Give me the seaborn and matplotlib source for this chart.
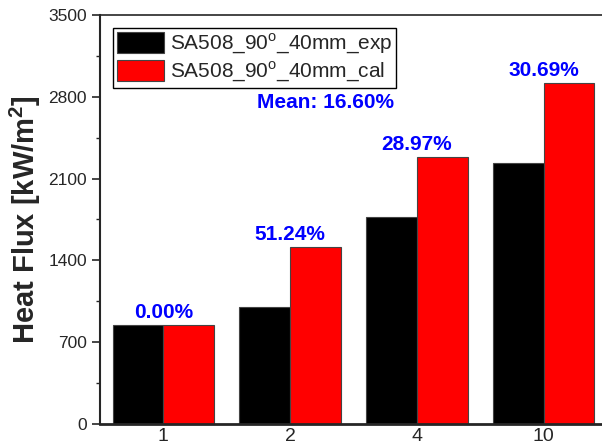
import matplotlib
matplotlib.use("Agg")
import matplotlib.pyplot as plt
import seaborn as sns
import pandas as pd

categories = ["1", "2", "4", "10"]
exp_values = [850, 1000, 1772, 2235]
cal_values = [850, 1512, 2285, 2921]
labels = ["0.00%", "51.24%", "28.97%", "30.69%"]
series_names = ["SA508_90$^\\mathrm{o}$_40mm_exp", "SA508_90$^\\mathrm{o}$_40mm_cal"]
mean_label = "Mean: 16.60%"

sns.set_style("ticks")
plt.rcParams['font.family'] = ['Liberation Sans', 'DejaVu Sans']
plt.rcParams['mathtext.fontset'] = 'custom'
plt.rcParams['mathtext.rm'] = 'Liberation Sans'
plt.rcParams['mathtext.bf'] = 'Liberation Sans:bold'

df = pd.DataFrame({
    "cat": categories * 2,
    "value": exp_values + cal_values,
    "series": [series_names[0]] * 4 + [series_names[1]] * 4,
})

fig = plt.figure(figsize=(6.02, 4.43), dpi=100)
ax = fig.add_axes([100 / 602, 1 - 424 / 443, 507 / 602, 409 / 443])

sns.barplot(data=df, x="cat", y="value", hue="series", palette=["black", "red"],
            saturation=1, width=0.8, edgecolor="#444444", linewidth=0.8, ax=ax)

ax.set_ylim(0, 3500)
ax.set_xlim(-0.5, 3.5)
ax.set_yticks(range(0, 3501, 700))
ax.set_yticks(range(350, 3500, 700), minor=True)
ax.tick_params(axis="y", which="major", length=6, width=1.2, labelsize=12.5, direction="out")
ax.tick_params(axis="y", which="minor", length=3, width=1.0, direction="out")
ax.tick_params(axis="x", length=0, labelsize=14, pad=3)
ax.set_xlabel("")
ax.set_ylabel("Heat Flux [kW/m$^\\mathbf{2}$]", fontsize=21, fontweight="bold", labelpad=4)

ax.spines["left"].set_linewidth(1.5)
ax.spines["bottom"].set_linewidth(2.0)
ax.spines["top"].set_linewidth(1.2)
ax.spines["right"].set_visible(False)

for i, (lab, val) in enumerate(zip(labels, cal_values)):
    ax.text(i, val + 25, lab, ha="center", va="bottom", color="blue",
            fontsize=15, fontweight="bold")
ax.text(1.28, 2755, mean_label, ha="center", va="center", color="blue",
        fontsize=15, fontweight="bold")

leg = ax.legend(loc="upper left", fontsize=15, frameon=True, fancybox=False,
                edgecolor="black", framealpha=1, handlelength=2.25, handleheight=1.15,
                handletextpad=0.3, borderaxespad=0.6, borderpad=0.2, labelspacing=0.2)
leg.get_frame().set_linewidth(1.0)

fig.savefig("out.png", dpi=100)
